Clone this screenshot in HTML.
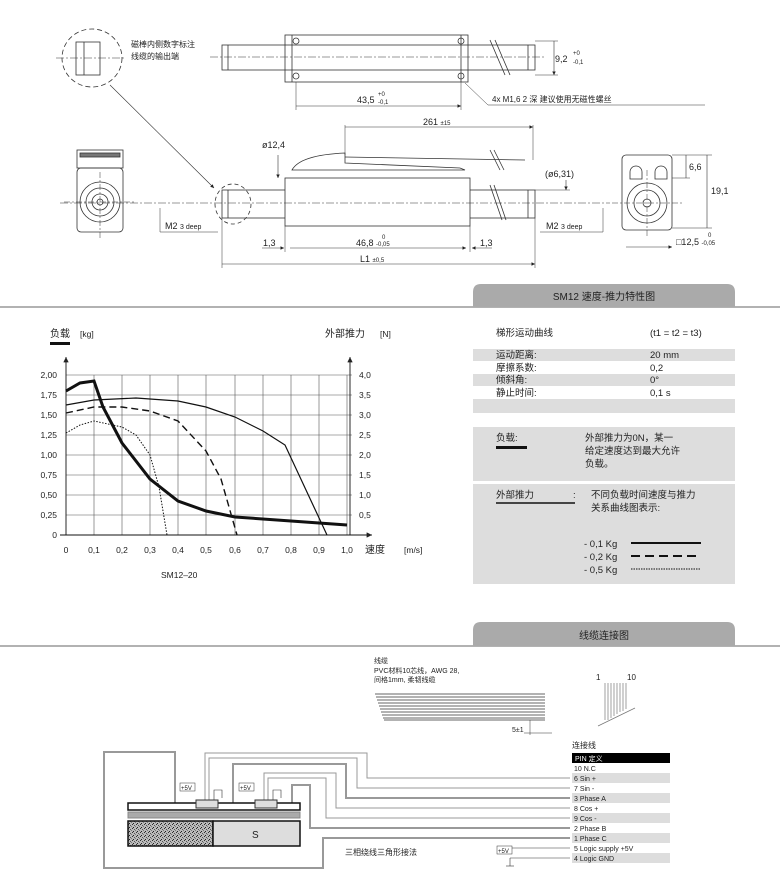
<!DOCTYPE html>
<html><head><meta charset="utf-8"><style>
html,body{margin:0;padding:0;background:#fff}
svg{display:block}
text{font-family:"Liberation Sans","Noto Sans CJK SC",sans-serif;fill:#222}
</style></head><body>
<svg width="780" height="881" viewBox="0 0 780 881" xmlns="http://www.w3.org/2000/svg">
<defs>
<pattern id="spk" width="4" height="4" patternUnits="userSpaceOnUse"><rect width="4" height="4" fill="#bbb"/><rect x="0" y="0" width="1" height="1" fill="#333"/><rect x="2" y="1" width="1" height="1" fill="#555"/><rect x="1" y="3" width="1" height="1" fill="#222"/><rect x="3" y="2" width="1" height="1" fill="#777"/></pattern>
<marker id="ar" markerWidth="6" markerHeight="6" refX="6" refY="3" orient="auto"><path d="M0,0 L6,3 L0,6z" fill="#222"/></marker>
</defs>
<g stroke="#333" fill="none" stroke-width="0.8">
<!-- detail circle -->
<ellipse cx="92" cy="58" rx="30" ry="29" stroke-dasharray="5,3"/>
<rect x="76" y="42" width="24" height="33"/><line x1="84" y1="42" x2="84" y2="75"/>
<line x1="56" y1="58" x2="126" y2="58" stroke-dasharray="8,2,2,2" stroke-width="0.5"/>
<line x1="110" y1="85" x2="214" y2="188" stroke-width="0.6" marker-end="url(#ar)"/>
<!-- top view -->
<rect x="222" y="45" width="313" height="25"/>
<rect x="285" y="35" width="183" height="47"/>
<line x1="292" y1="35" x2="292" y2="82"/><line x1="461" y1="35" x2="461" y2="82"/>
<circle cx="296" cy="41" r="3"/><circle cx="296" cy="76" r="3"/><circle cx="461" cy="41" r="3"/><circle cx="461" cy="76" r="3"/>
<line x1="228" y1="45" x2="228" y2="70"/><line x1="528" y1="45" x2="528" y2="70"/>
<line x1="490" y1="40" x2="505" y2="75"/><line x1="495" y1="40" x2="510" y2="75"/>
<line x1="210" y1="57" x2="545" y2="57" stroke-dasharray="8,2,2,2" stroke-width="0.5"/>
<line x1="535" y1="41" x2="558" y2="41" stroke-width="0.5"/><line x1="535" y1="75" x2="558" y2="75" stroke-width="0.5"/>
<line x1="554" y1="41" x2="554" y2="75" stroke-width="0.6" marker-end="url(#ar)"/>
<line x1="296" y1="82" x2="296" y2="110" stroke-width="0.5"/><line x1="461" y1="82" x2="461" y2="110" stroke-width="0.5"/>
<line x1="296" y1="106" x2="461" y2="106" stroke-width="0.6" marker-end="url(#ar)"/>
<polyline points="465,83 488,105 705,105" stroke-width="0.5"/>
<!-- side view -->
<rect x="222" y="190" width="313" height="28"/>
<rect x="285" y="178" width="185" height="48" fill="#fff"/>
<line x1="228" y1="190" x2="228" y2="218"/><line x1="528" y1="190" x2="528" y2="218"/>
<path d="M292,170 Q300,155 345,153 L345,163 L460,168 L465,170 L292,170z"/>
<line x1="345" y1="157" x2="525" y2="160"/>
<line x1="490" y1="150" x2="500" y2="170"/><line x1="494" y1="150" x2="504" y2="170"/>
<line x1="490" y1="185" x2="502" y2="220"/><line x1="494" y1="185" x2="506" y2="220"/>
<ellipse cx="233" cy="204" rx="18" ry="20" stroke-dasharray="4,3"/>
<line x1="60" y1="203" x2="610" y2="203" stroke-dasharray="8,2,2,2" stroke-width="0.5"/>
<line x1="345" y1="125" x2="345" y2="155" stroke-width="0.5"/><line x1="533" y1="125" x2="533" y2="160" stroke-width="0.5"/>
<line x1="345" y1="127" x2="533" y2="127" stroke-width="0.6" marker-end="url(#ar)"/>
<line x1="278" y1="155" x2="278" y2="178" stroke-width="0.6" marker-end="url(#ar)"/>
<line x1="566" y1="180" x2="566" y2="190" stroke-width="0.6" marker-end="url(#ar)"/>
<line x1="535" y1="190" x2="570" y2="190" stroke-width="0.5"/>
<polyline points="160,208 160,232 218,232" stroke-width="0.5"/><polyline points="603,208 603,232 540,232" stroke-width="0.5"/>
<line x1="222" y1="218" x2="222" y2="268" stroke-width="0.5"/><line x1="535" y1="218" x2="535" y2="268" stroke-width="0.5"/>
<line x1="285" y1="226" x2="285" y2="252" stroke-width="0.5"/><line x1="470" y1="226" x2="470" y2="252" stroke-width="0.5"/>
<line x1="290" y1="248" x2="466" y2="248" stroke-width="0.6" marker-end="url(#ar)"/>
<line x1="222" y1="264" x2="535" y2="264" stroke-width="0.6" marker-end="url(#ar)"/>
<line x1="262" y1="248" x2="284" y2="248" stroke-width="0.6" marker-end="url(#ar)"/>
<line x1="492" y1="248" x2="472" y2="248" stroke-width="0.6" marker-end="url(#ar)"/>
<!-- left end view -->
<rect x="77" y="150" width="46" height="18"/><rect x="80" y="153" width="40" height="4" fill="#777"/>
<rect x="77" y="168" width="46" height="64" rx="4"/>
<circle cx="100" cy="202" r="20"/><circle cx="100" cy="202" r="14"/><circle cx="100" cy="202" r="8"/><circle cx="100" cy="202" r="3"/>
<line x1="64" y1="202" x2="136" y2="202" stroke-dasharray="6,2,2,2" stroke-width="0.5"/>
<line x1="100" y1="172" x2="100" y2="238" stroke-dasharray="6,2,2,2" stroke-width="0.5"/>
<!-- right end view -->
<rect x="622" y="155" width="50" height="75" rx="4"/>
<path d="M630,172 a6,6 0 0 1 12,0 v7 h-12z M655,172 a6,6 0 0 1 12,0 v7 h-12z"/>
<circle cx="647" cy="203" r="20"/><circle cx="647" cy="203" r="13"/><circle cx="647" cy="203" r="4"/>
<line x1="612" y1="203" x2="682" y2="203" stroke-dasharray="6,2,2,2" stroke-width="0.5"/>
<line x1="647" y1="170" x2="647" y2="238" stroke-dasharray="6,2,2,2" stroke-width="0.5"/>
<line x1="672" y1="155" x2="712" y2="155" stroke-width="0.5"/><line x1="672" y1="228" x2="712" y2="228" stroke-width="0.5"/>
<line x1="672" y1="178" x2="690" y2="178" stroke-width="0.5"/>
<line x1="686" y1="155" x2="686" y2="178" stroke-width="0.6"/><line x1="707" y1="155" x2="707" y2="228" stroke-width="0.6"/>
<line x1="626" y1="247" x2="672" y2="247" stroke-width="0.6" marker-end="url(#ar)"/>
</g>
<g font-size="8">
<text x="131" y="47">磁棒内侧数字标注</text><text x="131" y="59">线缆的输出端</text>
<text x="555" y="62" font-size="9">9,2</text><text x="573" y="55" font-size="6">+0</text><text x="573" y="64" font-size="6">-0,1</text>
<text x="357" y="103" font-size="9">43,5</text><text x="378" y="96" font-size="6">+0</text><text x="378" y="104" font-size="6">-0,1</text>
<text x="492" y="102">4x M1,6 2 深    建议使用无磁性螺丝</text>
<text x="423" y="125" font-size="9">261 <tspan font-size="6">±15</tspan></text>
<text x="262" y="148" font-size="9">ø12,4</text>
<text x="545" y="177" font-size="9">(ø6,31)</text>
<text x="165" y="229" font-size="9">M2 <tspan font-size="7">3 deep</tspan></text>
<text x="546" y="229" font-size="9">M2 <tspan font-size="7">3 deep</tspan></text>
<text x="263" y="246" font-size="9">1,3</text><text x="480" y="246" font-size="9">1,3</text>
<text x="356" y="246" font-size="9">46,8 <tspan font-size="6">-0,05</tspan></text><text x="382" y="239" font-size="6">0</text>
<text x="360" y="262" font-size="9">L1 <tspan font-size="6">±0,5</tspan></text>
<text x="689" y="170" font-size="9">6,6</text><text x="711" y="194" font-size="9">19,1</text>
<text x="676" y="245" font-size="9">□12,5 <tspan font-size="6">-0,05</tspan></text><text x="708" y="237" font-size="6">0</text>
</g>

<!-- section header 1 -->
<line x1="0" y1="307" x2="780" y2="307" stroke="#999" stroke-width="1.5"/>
<path d="M473,307 V292 Q473,284 481,284 H727 Q735,284 735,292 V307z" fill="#aaa"/>
<text x="604" y="300" font-size="10" text-anchor="middle">SM12 速度-推力特性图</text>

<!-- chart -->
<g stroke="#555" stroke-width="0.6">
<line x1="94" y1="375" x2="94" y2="535"/><line x1="122" y1="375" x2="122" y2="535"/><line x1="150" y1="375" x2="150" y2="535"/><line x1="178" y1="375" x2="178" y2="535"/><line x1="206" y1="375" x2="206" y2="535"/><line x1="235" y1="375" x2="235" y2="535"/><line x1="263" y1="375" x2="263" y2="535"/><line x1="291" y1="375" x2="291" y2="535"/><line x1="319" y1="375" x2="319" y2="535"/><line x1="347" y1="375" x2="347" y2="535"/>
<line x1="66" y1="375" x2="352" y2="375"/><line x1="66" y1="395" x2="352" y2="395"/><line x1="66" y1="415" x2="352" y2="415"/><line x1="66" y1="435" x2="352" y2="435"/><line x1="66" y1="455" x2="352" y2="455"/><line x1="66" y1="475" x2="352" y2="475"/><line x1="66" y1="495" x2="352" y2="495"/><line x1="66" y1="515" x2="352" y2="515"/>
</g>
<g stroke="#111" stroke-width="0.9" fill="none">
<line x1="66" y1="535" x2="66" y2="357" marker-end="url(#ar)"/>
<line x1="350" y1="535" x2="350" y2="357" marker-end="url(#ar)"/>
<line x1="60" y1="535" x2="372" y2="535" marker-end="url(#ar)"/>
</g>
<g fill="none" stroke="#111">
<polyline stroke-width="3" points="66,391 80,383 94,381 103,407 122,443 150,479 178,501 206,511 235,517 291,521 347,525"/>
<polyline stroke-width="1.2" points="66,405 94,400 136,398 178,401 206,407 235,417 263,431 285,445 327,535"/>
<polyline stroke-width="1.4" stroke-dasharray="7,4" points="66,413 94,407 122,407 150,411 178,421 206,451 221,479 237,535"/>
<polyline stroke-width="1" stroke-dasharray="1.5,1.5" points="66,433 80,425 94,421 122,427 136,435 150,455 159,487 167,535"/>
</g>
<g font-size="8.5">
<text x="50" y="337" font-size="10">负载</text><text x="80" y="337">[kg]</text>
<rect x="50" y="342" width="20" height="3" fill="#111"/>
<text x="325" y="337" font-size="10">外部推力</text><text x="380" y="337">[N]</text>
<g text-anchor="end"><text x="57" y="378">2,00</text><text x="57" y="398">1,75</text><text x="57" y="418">1,50</text><text x="57" y="438">1,25</text><text x="57" y="458">1,00</text><text x="57" y="478">0,75</text><text x="57" y="498">0,50</text><text x="57" y="518">0,25</text><text x="57" y="538">0</text></g>
<text x="359" y="378">4,0</text><text x="359" y="398">3,5</text><text x="359" y="418">3,0</text><text x="359" y="438">2,5</text><text x="359" y="458">2,0</text><text x="359" y="478">1,5</text><text x="359" y="498">1,0</text><text x="359" y="518">0,5</text>
<g text-anchor="middle"><text x="66" y="553">0</text><text x="94" y="553">0,1</text><text x="122" y="553">0,2</text><text x="150" y="553">0,3</text><text x="178" y="553">0,4</text><text x="206" y="553">0,5</text><text x="235" y="553">0,6</text><text x="263" y="553">0,7</text><text x="291" y="553">0,8</text><text x="319" y="553">0,9</text><text x="347" y="553">1,0</text></g>
<text x="365" y="553" font-size="10">速度</text><text x="404" y="553">[m/s]</text>
<text x="161" y="578">SM12–20</text>
</g>

<!-- right panel -->
<rect x="473" y="349" width="262" height="12" fill="#ddd"/><rect x="473" y="374" width="262" height="12" fill="#ddd"/><rect x="473" y="399" width="262" height="14" fill="#ddd"/>
<rect x="473" y="427" width="262" height="54" fill="#ddd"/><rect x="473" y="484" width="262" height="100" fill="#ddd"/>
<g font-size="9.5">
<text x="496" y="336">梯形运动曲线</text><text x="650" y="336">(t1 = t2 = t3)</text>
<text x="496" y="358">运动距离:</text><text x="650" y="358">20 mm</text>
<text x="496" y="371">摩擦系数:</text><text x="650" y="371">0,2</text>
<text x="496" y="383">倾斜角:</text><text x="650" y="383">0°</text>
<text x="496" y="396">静止时间:</text><text x="650" y="396">0,1 s</text>
<text x="496" y="441">负载:</text><rect x="496" y="446" width="31" height="3" fill="#111"/>
<text x="585" y="441">外部推力为0N，某一</text><text x="585" y="454">给定速度达到最大允许</text><text x="585" y="467">负载。</text>
<text x="496" y="498">外部推力</text><line x1="496" y1="503" x2="575" y2="503" stroke="#111" stroke-width="1.5"/><text x="573" y="498">:</text>
<text x="591" y="498">不同负载时间速度与推力</text><text x="591" y="511">关系曲线图表示:</text>
<text x="584" y="547">- 0,1 Kg</text><text x="584" y="560">- 0,2 Kg</text><text x="584" y="573">- 0,5 Kg</text>
</g>
<line x1="631" y1="543" x2="701" y2="543" stroke="#111" stroke-width="2"/>
<line x1="631" y1="556" x2="701" y2="556" stroke="#111" stroke-width="2" stroke-dasharray="9,5"/>
<line x1="631" y1="569" x2="701" y2="569" stroke="#111" stroke-width="1" stroke-dasharray="1.5,1"/>

<!-- section header 2 -->
<line x1="0" y1="646" x2="780" y2="646" stroke="#999" stroke-width="1.5"/>
<path d="M473,646 V630 Q473,622 481,622 H727 Q735,622 735,630 V646z" fill="#aaa"/>
<text x="604" y="639" font-size="10" text-anchor="middle">线缆连接图</text>

<!-- ribbon -->
<g font-size="7"><text x="374" y="663">线缆</text><text x="374" y="673">PVC材料10芯线，AWG 28,</text><text x="374" y="682">间格1mm, 柔韧线缆</text>
<text x="512" y="732">5±1</text><text x="596" y="680" font-size="8">1</text><text x="627" y="680" font-size="8">10</text></g>
<g stroke="#666" stroke-width="1">
<line x1="375" y1="694" x2="545" y2="694"/><line x1="376" y1="697" x2="545" y2="697"/><line x1="377" y1="700" x2="545" y2="700"/><line x1="378" y1="703" x2="545" y2="703"/><line x1="379" y1="706" x2="545" y2="706"/><line x1="380" y1="709" x2="545" y2="709"/><line x1="381" y1="712" x2="545" y2="712"/><line x1="382" y1="715" x2="545" y2="715"/><line x1="383" y1="718" x2="545" y2="718"/><line x1="384" y1="720" x2="545" y2="720"/>
</g>
<g stroke="#777" stroke-width="0.7"><line x1="605" y1="683" x2="605" y2="720"/><line x1="608" y1="683" x2="608" y2="720"/><line x1="611" y1="683" x2="611" y2="718"/><line x1="614" y1="683" x2="614" y2="716"/><line x1="617" y1="683" x2="617" y2="714"/><line x1="620" y1="683" x2="620" y2="712"/><line x1="623" y1="683" x2="623" y2="711"/><line x1="626" y1="683" x2="626" y2="709"/><line x1="598" y1="726" x2="635" y2="708"/></g>
<line x1="530" y1="720" x2="530" y2="735" stroke="#333" stroke-width="0.5"/><line x1="524" y1="733" x2="552" y2="733" stroke="#333" stroke-width="0.5"/>

<!-- pin table -->
<text x="572" y="748" font-size="8">连接线</text>
<rect x="572" y="753" width="98" height="10" fill="#000"/>
<text x="575" y="761" font-size="7" style="fill:#fff">PIN 定义</text>
<g fill="#ddd"><rect x="572" y="773" width="98" height="10"/><rect x="572" y="793" width="98" height="10"/><rect x="572" y="813" width="98" height="10"/><rect x="572" y="833" width="98" height="10"/><rect x="572" y="853" width="98" height="10"/></g>
<g font-size="7"><text x="574" y="771">10  N.C</text><text x="574" y="781">6   Sin +</text><text x="574" y="791">7   Sin -</text><text x="574" y="801">3   Phase A</text><text x="574" y="811">8   Cos +</text><text x="574" y="821">9   Cos -</text><text x="574" y="831">2   Phase B</text><text x="574" y="841">1   Phase C</text><text x="574" y="851">5   Logic supply +5V</text><text x="574" y="861">4   Logic GND</text></g>

<!-- motor diagram -->
<g fill="none" stroke="#999" stroke-width="2">
<polyline points="175,805 175,752 104,752 104,868 323,868 323,838 570,838"/>
<polyline points="233,805 233,764 346,764 346,798 570,798"/>
<polyline points="292,805 292,785 310,785 310,828 570,828"/>
</g>
<g fill="none" stroke="#999" stroke-width="1">
<polyline points="205,800 205,753 367,753 367,778 570,778"/>
<polyline points="209,800 209,758 357,758 357,788 570,788"/>
<polyline points="264,800 264,773 336,773 336,808 570,808"/>
<polyline points="268,800 268,778 326,778 326,818 570,818"/>
<polyline points="510,848 570,848"/><polyline points="510,858 570,858"/>
</g>
<rect x="128" y="803" width="172" height="7" fill="#fff" stroke="#111" stroke-width="1.5"/>
<rect x="128" y="812" width="172" height="6" fill="#aaa" stroke="#888"/>
<rect x="128" y="821" width="85" height="25" fill="url(#spk)" stroke="#111" stroke-width="1.5"/>
<rect x="213" y="821" width="87" height="25" fill="#ddd" stroke="#111" stroke-width="1.5"/>
<rect x="196" y="800" width="22" height="8" fill="#ddd" stroke="#333"/><rect x="255" y="800" width="22" height="8" fill="#ddd" stroke="#333"/>
<g font-size="6"><rect x="180" y="783" width="15" height="8" fill="#fff" stroke="#333" stroke-width="0.5"/><text x="181" y="790">+5V</text>
<rect x="239" y="783" width="15" height="8" fill="#fff" stroke="#333" stroke-width="0.5"/><text x="240" y="790">+5V</text>
<rect x="497" y="846" width="15" height="8" fill="#fff" stroke="#333" stroke-width="0.5"/><text x="498" y="853">+5V</text></g>
<g stroke="#333" stroke-width="0.6" fill="none"><polyline points="214,800 214,790 222,790 222,798"/><polyline points="273,800 273,790 281,790 281,798"/><polyline points="510,858 510,866"/><line x1="506" y1="866" x2="514" y2="866"/></g>
<text x="252" y="838" font-size="10">S</text>
<text x="345" y="855" font-size="8">三相绕线三角形接法</text>
</svg>
</body></html>
